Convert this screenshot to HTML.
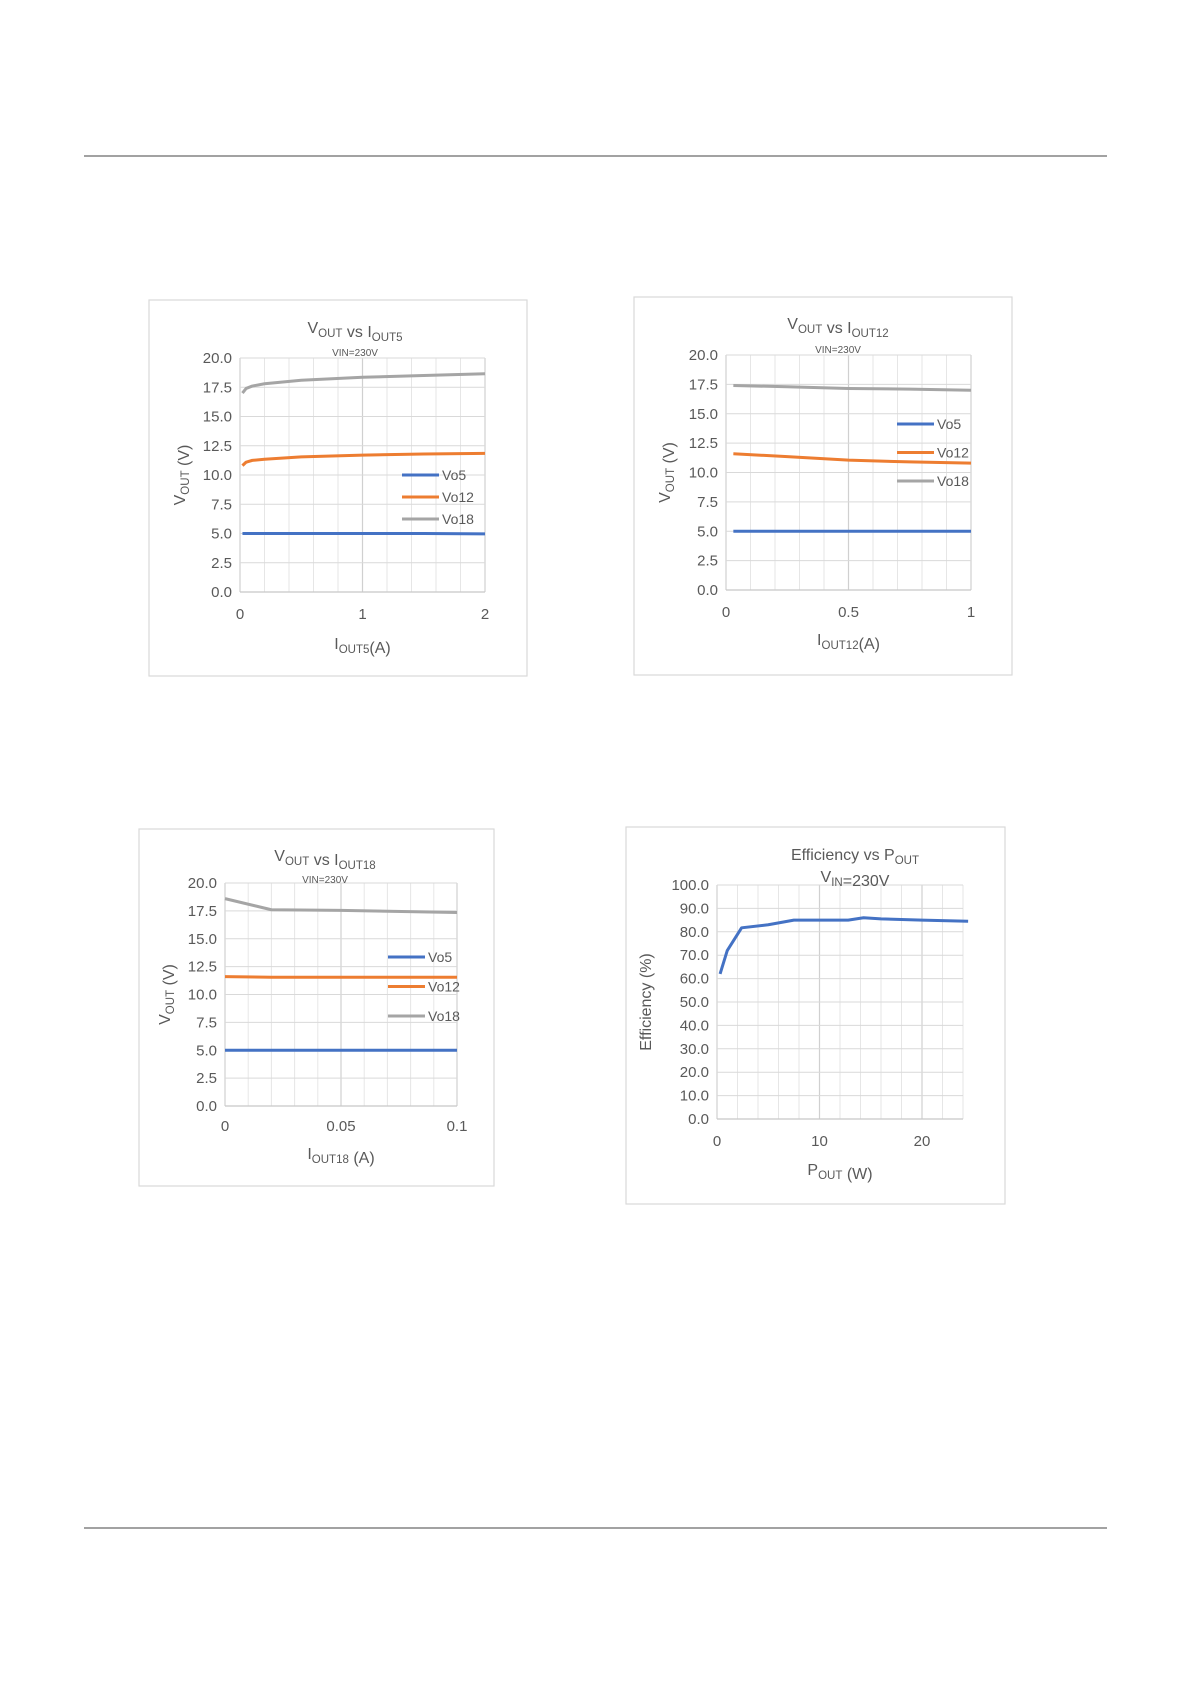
<!DOCTYPE html>
<html><head><meta charset="utf-8">
<style>
body{margin:0;background:#fff;}
svg text{font-family:"Liberation Sans",sans-serif;}
</style></head>
<body>
<svg id="page" width="1192" height="1685" viewBox="0 0 1192 1685" xmlns="http://www.w3.org/2000/svg">
<line x1="84" y1="156" x2="1107" y2="156" stroke="#444" stroke-width="1"/>
<line x1="84" y1="1528" x2="1107" y2="1528" stroke="#444" stroke-width="1"/>
<g id="charts"></g>
</svg>
<script>
// Chart 1: VOUT vs IOUT5
const c1_x_vo5=[0.02,0.5,1,1.5,2];
const c1_vo5=[5.0,5.0,5.0,5.0,4.97];
const c1_x=[0.02,0.05,0.1,0.2,0.5,1,1.5,2];
const c1_vo12=[10.8,11.1,11.25,11.35,11.55,11.7,11.8,11.85];
const c1_vo18=[17.0,17.4,17.6,17.8,18.1,18.35,18.5,18.65];
// Chart 2: VOUT vs IOUT12
const c2_x=[0.03,0.25,0.5,0.75,1];
const c2_vo5=[5.0,5.0,5.0,5.0,5.0];
const c2_vo12=[11.6,11.35,11.05,10.9,10.8];
const c2_vo18=[17.4,17.3,17.15,17.1,17.0];
// Chart 3: VOUT vs IOUT18
const c3_x=[0,0.02,0.05,0.1];
const c3_vo5=[5.0,5.0,5.0,5.0];
const c3_vo12=[11.6,11.55,11.55,11.55];
const c3_vo18=[18.6,17.6,17.55,17.35];
// Chart 4: Efficiency vs POUT
const c4_x=[0.3,1,2.4,5,7.5,10,12.8,14.3,16,20,24.5];
const c4_eff=[62,72,81.7,83,85,85,85,86,85.5,85,84.5];
const vTicks=[0,2.5,5,7.5,10,12.5,15,17.5,20];
const effTicks=[0,10,20,30,40,50,60,70,80,90,100];
const c1_xticks=[0,1,2], c2_xticks=[0,0.5,1], c3_xticks=[0,0.05,0.1], c4_xticks=[0,10,20];

const NS='http://www.w3.org/2000/svg';
const root=document.getElementById('charts');
function mk(tag,attrs,parent,text){const e=document.createElementNS(NS,tag);for(const k in attrs)e.setAttribute(k,attrs[k]);if(text!==undefined)e.textContent=text;parent.appendChild(e);return e;}
function sub(t,main,s){mk('tspan',{},t,main);mk('tspan',{'font-size':'0.72em',dy:'4'},t,s);mk('tspan',{dy:'-4'},t,'');}

function chart(cfg){
  const g=mk('g',{},root);
  
  
  const fr=mk('rect',{x:cfg.frame[0],y:cfg.frame[1],width:cfg.frame[2],height:cfg.frame[3],fill:'#fff',stroke:'#d9d9d9','stroke-width':1.2},g);
  
  
  const [px0,px1,py0,py1]=cfg.plot; // px0 left, px1 right, py0 bottom pixel, py1 top pixel
  const X=v=>px0+(v-cfg.xmin)/(cfg.xmax-cfg.xmin)*(px1-px0);
  const Y=v=>py0-(v-cfg.ymin)/(cfg.ymax-cfg.ymin)*(py0-py1);
  // minor vertical grid
  for(let i=0;i<=cfg.xdiv;i++){const xv=cfg.xmin+(cfg.xmax-cfg.xmin)*i/cfg.xdiv;
    const l=mk('line',{x1:X(xv),x2:X(xv),y1:py1,y2:py0,stroke:'#e6e6e6','stroke-width':1},g);
    }
  cfg.xticks.forEach(v=>{const l=mk('line',{x1:X(v),x2:X(v),y1:py1,y2:py0,stroke:'#d0d0d0','stroke-width':1.2},g);
    
    const t=mk('text',{x:X(v),y:cfg.xlabY,'text-anchor':'middle','font-size':15,fill:'#595959'},g,cfg.xfmt(v));
    });
  cfg.yticks.forEach(v=>{const l=mk('line',{x1:px0,x2:px1,y1:Y(v),y2:Y(v),stroke:'#d9d9d9','stroke-width':1},g);
    
    const t=mk('text',{x:px0-8,y:Y(v)+5,'text-anchor':'end','font-size':15,fill:'#595959'},g,v.toFixed(1));
    });
  const ax=mk('line',{x1:px0,x2:px1,y1:py0,y2:py0,stroke:'#c8c8c8','stroke-width':1.2},g);
  
  cfg.series.forEach(s=>{
    const p=mk('polyline',{points:s.x.map((xv,i)=>X(xv)+','+Y(s.y[i])).join(' '),fill:'none',stroke:s.color,'stroke-width':3,'stroke-linejoin':'round'},g);
    
  });
  if(cfg.legend){cfg.series.forEach((s,i)=>{const ly=cfg.legend[1]+i*cfg.legend[2];
    const lg=mk('g',{},g);
    mk('line',{x1:cfg.legend[0],x2:cfg.legend[0]+37,y1:ly,y2:ly,stroke:s.color,'stroke-width':3},lg);
    mk('text',{x:cfg.legend[0]+40,y:ly+5,'font-size':14,fill:'#595959'},lg,s.label);});}
  // titles
  const tt=mk('text',{x:cfg.titleX,y:cfg.titleY,'text-anchor':'middle','font-size':cfg.titleSize||16,fill:'#595959'},g);
  
  cfg.title(tt);
  const st=mk('text',{x:cfg.titleX,y:cfg.subY,'text-anchor':'middle','font-size':cfg.subSize||10,fill:'#595959'},g);
  
  cfg.subtitle(st);
  const xt=mk('text',{x:(px0+px1)/2,y:cfg.xtitleY,'text-anchor':'middle','font-size':16,fill:'#595959'},g);
  
  cfg.xtitle(xt);
  const yt=mk('text',{x:0,y:0,'text-anchor':'middle','font-size':16,fill:'#595959',transform:`translate(${cfg.ytitleX},${(py0+py1)/2}) rotate(-90)`},g);
  
  cfg.ytitle(yt);
}
const blue='#4472c4',orange='#ed7d31',gray='#a5a5a5';
const vt=t=>{sub(t,'V','OUT');mk('tspan',{},t,' (V)');};
chart({name:'chart-vout-vs-iout5',frame:[149,300,378,376],plot:[240,485,592,358],xmin:0,xmax:2,ymin:0,ymax:20,xdiv:10,
  xticks:c1_xticks,xfmt:v=>String(v),yticks:vTicks,xlabY:619,
  series:[{label:'Vo5',x:c1_x_vo5,y:c1_vo5,color:blue},{label:'Vo12',x:c1_x,y:c1_vo12,color:orange},{label:'Vo18',x:c1_x,y:c1_vo18,color:gray}],
  legend:[402,475,22],titleX:355,titleY:333,subY:356,
  title:t=>{sub(t,'V','OUT');mk('tspan',{},t,' vs ');sub(t,'I','OUT5');},subtitle:t=>{t.textContent='VIN=230V';},
  xtitleY:649,xtitle:t=>{sub(t,'I','OUT5');mk('tspan',{},t,'(A)');},ytitleX:185,ytitle:vt});
chart({name:'chart-vout-vs-iout12',frame:[634,297,378,378],plot:[726,971,590,355],xmin:0,xmax:1,ymin:0,ymax:20,xdiv:10,
  xticks:c2_xticks,xfmt:v=>String(v),yticks:vTicks,xlabY:617,
  series:[{label:'Vo5',x:c2_x,y:c2_vo5,color:blue},{label:'Vo12',x:c2_x,y:c2_vo12,color:orange},{label:'Vo18',x:c2_x,y:c2_vo18,color:gray}],
  legend:[897,424,28.5],titleX:838,titleY:329,subY:353,
  title:t=>{sub(t,'V','OUT');mk('tspan',{},t,' vs ');sub(t,'I','OUT12');},subtitle:t=>{t.textContent='VIN=230V';},
  xtitleY:645,xtitle:t=>{sub(t,'I','OUT12');mk('tspan',{},t,'(A)');},ytitleX:670,ytitle:vt});
chart({name:'chart-vout-vs-iout18',frame:[139,829,355,357],plot:[225,457,1106,883],xmin:0,xmax:0.1,ymin:0,ymax:20,xdiv:10,
  xticks:c3_xticks,xfmt:v=>String(v),yticks:vTicks,xlabY:1131,
  series:[{label:'Vo5',x:c3_x,y:c3_vo5,color:blue},{label:'Vo12',x:c3_x,y:c3_vo12,color:orange},{label:'Vo18',x:c3_x,y:c3_vo18,color:gray}],
  legend:[388,957,29.5],titleX:325,titleY:861,subY:883,
  title:t=>{sub(t,'V','OUT');mk('tspan',{},t,' vs ');sub(t,'I','OUT18');},subtitle:t=>{t.textContent='VIN=230V';},
  xtitleY:1159,xtitle:t=>{sub(t,'I','OUT18');mk('tspan',{},t,' (A)');},ytitleX:170,ytitle:vt});
chart({name:'chart-efficiency-vs-pout',frame:[626,827,379,377],plot:[717,963,1119,885],xmin:0,xmax:24,ymin:0,ymax:100,xdiv:12,
  xticks:c4_xticks,xfmt:v=>String(v),yticks:effTicks,xlabY:1146,
  series:[{label:'Efficiency',x:c4_x,y:c4_eff,color:blue}],legend:null,titleX:855,titleY:860,subY:882,subSize:16,
  title:t=>{mk('tspan',{},t,'Efficiency vs ');sub(t,'P','OUT');},subtitle:t=>{sub(t,'V','IN');mk('tspan',{},t,'=230V');},
  xtitleY:1175,xtitle:t=>{sub(t,'P','OUT');mk('tspan',{},t,' (W)');},ytitleX:651,ytitle:t=>{t.textContent='Efficiency  (%)';}});
</script>
</body></html>
